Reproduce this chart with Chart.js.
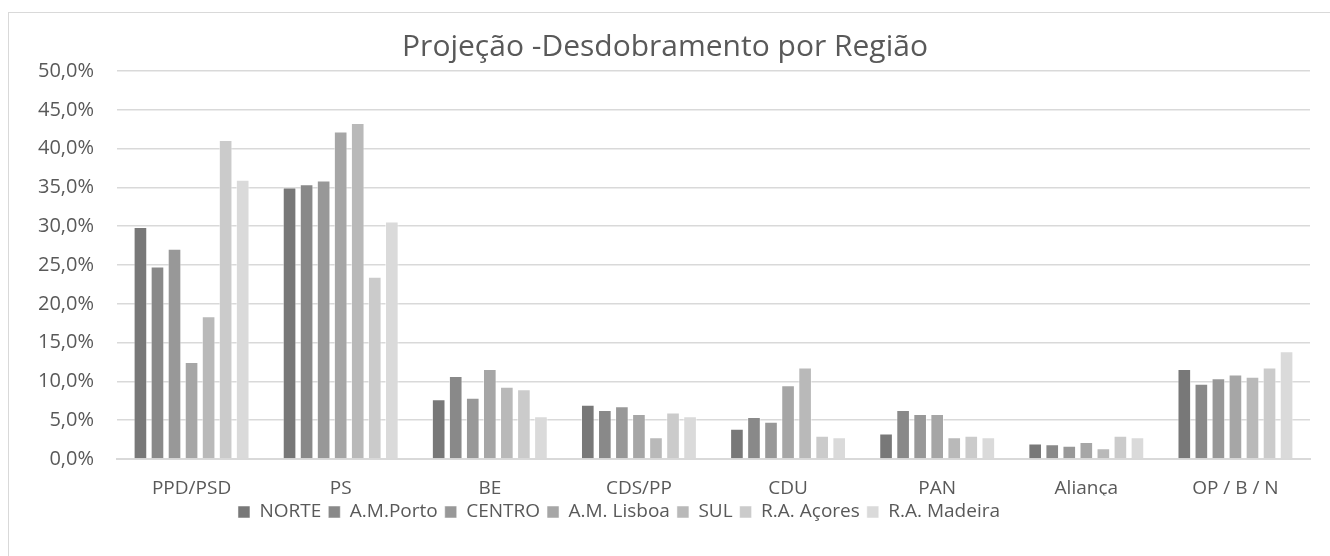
<!DOCTYPE html>
<html>
<head>
<meta charset="utf-8">
<script src="https://cdn.jsdelivr.net/npm/chart.js@4"></script>
<style>
  body { margin: 0; background: #fff; }
  #wrap { position: relative; width: 1330px; height: 556px; overflow: hidden; }
  #frame { position: absolute; left: 8px; top: 12px; width: 1400px; height: 700px; border: 1px solid #d9d9d9; }
  #chart { position: absolute; left: 0; top: 0; }
</style>
</head>
<body>
<div id="wrap">
  <div id="frame"></div>
  <canvas id="chart" width="1330" height="556"></canvas>
</div>
<script>
const parties = ["PPD/PSD", "PS", "BE", "CDS/PP", "CDU", "PAN", "Aliança", "OP / B / N"]
const regions = ["NORTE", "A.M.Porto", "CENTRO", "A.M. Lisboa", "SUL", "R.A. Açores", "R.A. Madeira"]

const norte     = [29.9, 35.0, 7.7, 7.0, 3.9, 3.3, 2.0, 11.6]
const amPorto   = [24.8, 35.4, 10.7, 6.3, 5.4, 6.3, 1.9, 9.7]
const centro    = [27.1, 35.9, 7.9, 6.8, 4.8, 5.8, 1.7, 10.4]
const amLisboa  = [12.5, 42.2, 11.6, 5.8, 9.5, 5.8, 2.2, 10.9]
const sul       = [18.4, 43.3, 9.3, 2.8, 11.8, 2.8, 1.4, 10.6]
const acores    = [41.1, 23.5, 9.0, 6.0, 3.0, 3.0, 3.0, 11.8]
const madeira   = [36.0, 30.6, 5.5, 5.5, 2.8, 2.8, 2.8, 13.9]

const series = [norte, amPorto, centro, amLisboa, sul, acores, madeira]
const colors = ["#787878", "#898989", "#989898", "#a6a6a6", "#b9b9b9", "#cbcbcb", "#dadada"]

const textColor = "#595959"
const font = "'Open Sans', sans-serif"

// nudge the legend left, like the original
const legendShift = {
  id: "legendShift",
  afterLayout(chart) {
    chart.legend.left -= 46
    chart.legend.right -= 46
  }
}

const chart = new Chart("chart", {
  type: "bar",
  data: {
    labels: parties,
    datasets: regions.map((r, i) => ({
      label: r,
      data: series[i],
      backgroundColor: colors[i],
      borderColor: "rgba(255,255,255,0.5)",
      borderWidth: 1,
      barPercentage: 0.8,
      categoryPercentage: 0.8,
    }))
  },
  plugins: [legendShift],
  options: {
    responsive: false,
    animation: false,
    layout: {padding: {top: 29, right: 20, bottom: 24.5, left: 20}},
    plugins: {
      title: {
        display: true,
        text: "Projeção -Desdobramento por Região",
        color: textColor,
        font: {family: font, size: 30, weight: "normal", lineHeight: 1.2},
        padding: {top: 0, bottom: 6},
      },
      legend: {
        position: "bottom",
        labels: {
          color: textColor,
          font: {family: font, size: 19},
          boxWidth: 12,
          boxHeight: 12,
          padding: 7,
        }
      },
      tooltip: {enabled: false},
    },
    scales: {
      x: {
        afterFit(scale) { scale.height = 36.5 },
        grid: {display: false, drawTicks: false},
        border: {color: "#d9d9d9", width: 2},
        ticks: {color: textColor, font: {family: font, size: 19}, padding: 18},
      },
      y: {
        min: 0,
        max: 50,
        afterFit(scale) { scale.width = 97 },
        grid: {color: "#d9d9d9", lineWidth: 1.5, drawTicks: false},
        border: {display: false},
        ticks: {
          stepSize: 5,
          color: textColor,
          font: {family: font, size: 20},
          padding: 23,
          callback: v => v.toFixed(1).replace(".", ",") + "%",
        },
      }
    }
  }
})
</script>
</body>
</html>
